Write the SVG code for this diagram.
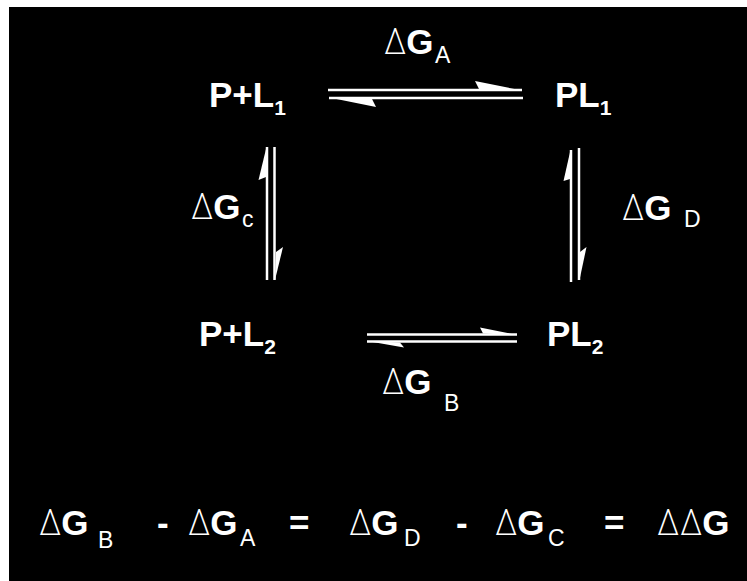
<svg xmlns="http://www.w3.org/2000/svg" width="747" height="581" viewBox="0 0 747 581">
  <style>
    text { font-family: "Liberation Sans", Arial, sans-serif; fill: #fff; }
    .big { font-size: 35px; font-weight: bold; }
    .dl { font-family: Inter, "DejaVu Sans", sans-serif; font-weight: 200; }
    .sub { font-size: 23px; font-weight: normal; }
    .nsub { font-size: 21px; font-weight: bold; }
    .ln { stroke: #fff; stroke-width: 2.5; fill: none; }
    .barb { fill: #fff; stroke: none; }
  </style>

  <!-- page: white margin at left/top, black field -->
  <rect x="0" y="0" width="747" height="581" fill="#fff"/>
  <rect x="9" y="7" width="738" height="574" fill="#000"/>

  <!-- equilibrium half-arrows -->
  <g id="connectors">
    <g id="eq-top">
      <line class="ln" x1="328" y1="90" x2="522" y2="90"/>
      <polygon class="barb" points="522,90.5 475,81 479,89"/>
      <line class="ln" x1="329" y1="98" x2="523" y2="98"/>
      <polygon class="barb" points="329,97.5 376,107 372,99"/>
    </g>
    <g id="eq-bottom">
      <line class="ln" x1="367" y1="334.5" x2="517" y2="334.5"/>
      <polygon class="barb" points="517,335 480,327.5 483,333.5"/>
      <line class="ln" x1="367" y1="341.5" x2="517" y2="341.5"/>
      <polygon class="barb" points="367,341 404,347.5 400,342.5"/>
    </g>
    <g id="eq-left">
      <line class="ln" x1="267" y1="147" x2="267" y2="280"/>
      <polygon class="barb" points="266.5,147 258.5,180 266,177"/>
      <line class="ln" x1="274.5" y1="147" x2="274.5" y2="280"/>
      <polygon class="barb" points="275,280 283,247 276,252"/>
    </g>
    <g id="eq-right">
      <line class="ln" x1="571" y1="150" x2="571" y2="282"/>
      <polygon class="barb" points="570.5,150 563.5,181 570,179"/>
      <line class="ln" x1="579" y1="148" x2="579" y2="280"/>
      <polygon class="barb" points="579.5,280 586.5,247 580,252"/>
    </g>
  </g>

  <!-- species -->
  <g id="node-PL1free">
    <text class="big" x="209" y="107">P+L<tspan class="nsub" dy="8">1</tspan></text>
  </g>
  <g id="node-PL1">
    <text class="big" x="555" y="107">PL<tspan class="nsub" dy="8">1</tspan></text>
  </g>
  <g id="node-PL2free">
    <text class="big" x="199" y="346">P+L<tspan class="nsub" dy="8">2</tspan></text>
  </g>
  <g id="node-PL2">
    <text class="big" x="547" y="346">PL<tspan class="nsub" dy="8">2</tspan></text>
  </g>

  <!-- free-energy labels -->
  <g id="label-A">
    <text class="big" x="384" y="54"><tspan class="dl">Δ</tspan>G<tspan class="sub" x="435" y="63">A</tspan></text>
  </g>
  <g id="label-C">
    <text class="big" x="191" y="219"><tspan class="dl">Δ</tspan>G<tspan class="sub" x="242" y="227">c</tspan></text>
  </g>
  <g id="label-D">
    <text class="big" x="622" y="220"><tspan class="dl">Δ</tspan>G<tspan class="sub" x="684" y="227">D</tspan></text>
  </g>
  <g id="label-B">
    <text class="big" x="382" y="394"><tspan class="dl">Δ</tspan>G<tspan class="sub" x="444" y="411">B</tspan></text>
  </g>

  <!-- thermodynamic cycle relation -->
  <g id="relation">
    <text class="big" x="39" y="535"><tspan class="dl">Δ</tspan>G<tspan class="sub" x="98" y="548">B</tspan></text>
    <text class="big" x="157" y="535">-</text>
    <text class="big" x="188" y="535"><tspan class="dl">Δ</tspan>G<tspan class="sub" x="240" y="546">A</tspan></text>
    <text class="big" x="289" y="535">=</text>
    <text class="big" x="349" y="535"><tspan class="dl">Δ</tspan>G<tspan class="sub" x="404" y="546">D</tspan></text>
    <text class="big" x="456" y="535">-</text>
    <text class="big" x="495" y="535"><tspan class="dl">Δ</tspan>G<tspan class="sub" x="548" y="546">C</tspan></text>
    <text class="big" x="604" y="535">=</text>
    <text class="big" x="657" y="535"><tspan class="dl">ΔΔ</tspan>G</text>
  </g>
</svg>
